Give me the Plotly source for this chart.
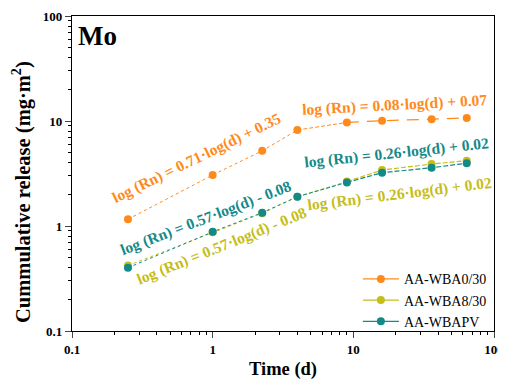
import plotly.graph_objects as go

days = [0.25, 1, 2.25, 4, 9, 16, 36, 64]
wba0 = [1.16, 3.06, 5.2, 8.2, 9.7, 10.07, 10.4, 10.7]
wba8 = [0.42, 0.87, 1.32, 1.9, 2.65, 3.41, 3.89, 4.19]
wbapv = [0.40, 0.88, 1.34, 1.9, 2.6, 3.22, 3.59, 3.96]

names = ["AA-WBA0/30", "AA-WBA8/30", "AA-WBAPV"]
colors = ["#FF8A1C", "#C6BD18", "#138A8A"]
series = [wba0, wba8, wbapv]
late_dash = ["12px,8px", "5px,2px", "5px,2px"]

tick_vals = [0.1, 1, 10, 100]
tick_text = ["0.1", "1", "10", "100"]

fig = go.Figure()
for name, col, ys, ld in zip(names, colors, series, late_dash):
    fig.add_trace(go.Scatter(x=days[:4], y=ys[:4], mode="lines", showlegend=False,
                             line=dict(color=col, width=1, dash="dot")))
    fig.add_trace(go.Scatter(x=days[3:5], y=ys[3:5], mode="lines", showlegend=False,
                             line=dict(color=col, width=1, dash="4px,2px")))
    fig.add_trace(go.Scatter(x=days[4:], y=ys[4:], mode="lines", showlegend=False,
                             line=dict(color=col, width=1.2, dash=ld)))
for name, col, ys in zip(names, colors, series):
    fig.add_trace(go.Scatter(x=days, y=ys, mode="markers", showlegend=False,
                             marker=dict(color=col, size=8)))
    fig.add_trace(go.Scatter(x=[None], y=[None], mode="lines+markers", name=name,
                             line=dict(color=col, width=1.2),
                             marker=dict(color=col, size=8)))

ann = [
    ("log (Rn) = 0.71·log(d) + 0.35", 0.296, 0.549, -26, colors[0]),
    ("log (Rn) = 0.08·log(d) + 0.07", 0.765, 0.717, -3, colors[0]),
    ("log (Rn) = 0.26·log(d) + 0.02", 0.768, 0.565, -6, colors[2]),
    ("log (Rn) = 0.26·log(d) + 0.02", 0.777, 0.435, -7, colors[1]),
    ("log (Rn) = 0.57·log(d) - 0.08", 0.318, 0.359, -21, colors[2]),
    ("log (Rn) = 0.57·log(d) - 0.08", 0.355, 0.270, -22, colors[1]),
]
for txt, x, y, ang, col in ann:
    fig.add_annotation(x=x, y=y, xref="paper", yref="paper", text="<b>" + txt + "</b>",
                       textangle=ang, showarrow=False, xanchor="center", yanchor="middle",
                       font=dict(family="Liberation Serif", size=15.5, color=col))
fig.add_annotation(x=0.01, y=0.935, xref="paper", yref="paper", text="<b>Mo</b>",
                   showarrow=False, xanchor="left", yanchor="middle",
                   font=dict(family="Liberation Serif", size=27, color="black"))
fig.add_annotation(x=-0.118, y=0.442, xref="paper", yref="paper",
                   text="<b>Cummulative release (mg·m<sup>2</sup>)</b>", textangle=-90,
                   showarrow=False, xanchor="center", yanchor="middle",
                   font=dict(family="Liberation Serif", size=20.5, color="black"))

axis_common = dict(type="log", range=[-1, 2], tickvals=tick_vals, ticktext=tick_text,
                   ticks="outside", ticklen=6, tickwidth=1.2, showgrid=False, zeroline=False,
                   showline=True, linecolor="black", linewidth=1.2, mirror=True, automargin=False,
                   tickfont=dict(family="Liberation Serif", size=13, color="black", weight="bold"),
                   minor=dict(ticks="outside", ticklen=3, tickcolor="black", dtick="D1", showgrid=False))

# page body has an 8px margin, so the figure is sized to fill the 506x387 window
fig.update_layout(
    width=498, height=379,
    margin=dict(l=64, r=12, t=8, b=56),
    paper_bgcolor="white", plot_bgcolor="white",
    font=dict(family="Liberation Serif", color="black"),
    xaxis=dict(**axis_common,
               title=dict(text="<b>Time (d)</b>", font=dict(family="Liberation Serif", size=18.5), standoff=6)),
    yaxis=dict(**axis_common),
    legend=dict(x=0.995, y=-0.02, xanchor="right", yanchor="bottom", bgcolor="rgba(0,0,0,0)",
                font=dict(family="Liberation Serif", size=14, color="black"),
                itemwidth=36, tracegroupgap=0),
)

fig.write_html("out.html")
